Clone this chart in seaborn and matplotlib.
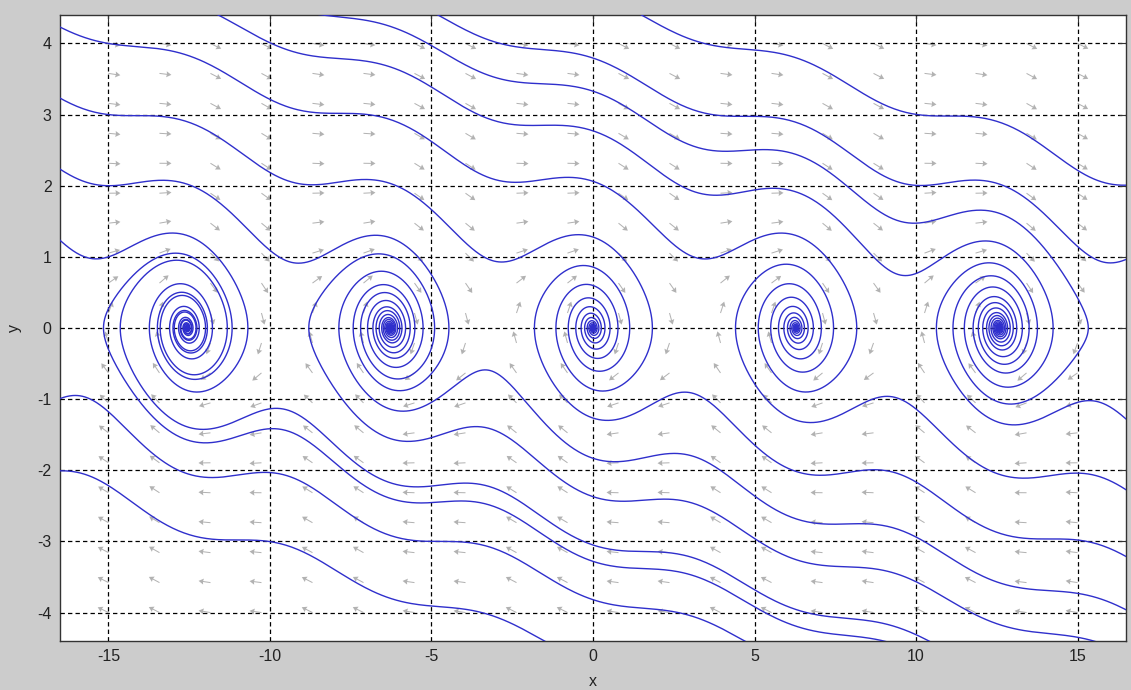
import numpy as np
import pandas as pd
import matplotlib
matplotlib.use("Agg")
import matplotlib.pyplot as plt
import seaborn as sns

# ---- data: damped pendulum  x' = y,  y' = -gain*sin(x) - damping*y ----
gain = 0.45
damping = 0.15
# seed points of trajectories moving right (y > 0)
upper_x0 = [-15.0, -15.0, -15.0, -15.0, -11.6, -8.0, -4.8, 1.5]
upper_y0 = [1.0, 2.0, 3.0, 4.0, 4.4, 4.38, 4.4, 4.4]
# seed points of trajectories moving left (y < 0)
lower_x0 = [14.9, 15.0, 15.0, 15.0, 15.5, 10.4, 9.0, 4.7, -1.5]
lower_y0 = [-1.06, -2.04, -2.98, -3.73, -4.4, -4.4, -4.4, -4.4, -4.4]
# direction-field grid
field_x = np.linspace(-15, 15, 20)
field_y = np.linspace(-4, 4, 20)
x_ticks = [-15, -10, -5, 0, 5, 10, 15]
y_ticks = [-4, -3, -2, -1, 0, 1, 2, 3, 4]
x_lim = (-16.5, 16.5)
y_lim = (-4.4, 4.4)


def rhs(s):
    return np.stack([s[:, 1], -gain * np.sin(s[:, 0]) - damping * s[:, 1]], axis=1)


def integrate(seeds, t_end, dt):
    n = int(abs(t_end) / dt)
    h = dt if t_end > 0 else -dt
    s = seeds.copy()
    out = np.empty((n + 1, len(seeds), 2))
    out[0] = s
    for i in range(n):
        k1 = rhs(s)
        k2 = rhs(s + 0.5 * h * k1)
        k3 = rhs(s + 0.5 * h * k2)
        k4 = rhs(s + h * k3)
        s = s + h / 6.0 * (k1 + 2 * k2 + 2 * k3 + k4)
        out[i + 1] = s
    return out


def clip_path(p):
    inside = (np.abs(p[:, 0]) < 17.0) & (np.abs(p[:, 1]) < 4.8)
    bad = np.where(~inside)[0]
    if len(bad):
        return p[: bad[0] + 1]
    return p


seeds = np.array(list(zip(upper_x0 + lower_x0, upper_y0 + lower_y0)))
fwd = integrate(seeds, 110.0, 0.02)
bwd = integrate(seeds, -50.0, 0.02)

rows = []
for k in range(len(seeds)):
    b = clip_path(bwd[:, k, :])[::-1]
    f = clip_path(fwd[:, k, :])
    p = np.vstack([b, f[1:]])
    rows.append(pd.DataFrame({"x": p[:, 0], "y": p[:, 1], "traj": k,
                              "order": np.arange(len(p))}))
traj_df = pd.concat(rows, ignore_index=True)

# ---- figure ----
sns.set_style("white")
plt.rcParams["font.family"] = ["Liberation Sans", "DejaVu Sans"]

W, H, DPI = 1131, 690, 100
fig = plt.figure(figsize=(W / DPI, H / DPI), dpi=DPI, facecolor="#cccccc")
left, right, top, bottom = 60, 1126, 15, 641
ax = fig.add_axes([left / W, 1 - bottom / H, (right - left) / W, (bottom - top) / H])
ax.set_facecolor("white")
ax.set_xlim(*x_lim)
ax.set_ylim(*y_lim)

# direction field, arrows of equal screen length
sx = (right - left) / (x_lim[1] - x_lim[0])
sy = (bottom - top) / (y_lim[1] - y_lim[0])
FX, FY = np.meshgrid(field_x, field_y)
U = FY
V = -gain * np.sin(FX) - damping * FY
Us, Vs = U * sx, V * sy
L = np.hypot(Us, Vs)
L[L == 0] = 1
arrow_px = 12.0
ax.quiver(FX, FY, arrow_px * Us / L, arrow_px * Vs / L, angles="uv",
          scale_units="dots", scale=1, units="dots", width=1.0,
          headwidth=6, headlength=5, headaxislength=4.5,
          color="#b2b2b2", zorder=2)

sns.lineplot(data=traj_df, x="x", y="y", units="traj", estimator=None,
             sort=False, color="#2f2fcc", linewidth=1.0, ax=ax, zorder=3)

ax.set_xticks(x_ticks)
ax.set_yticks(y_ticks)
ax.set_xticklabels([str(t) for t in x_ticks])
ax.set_yticklabels([str(t) for t in y_ticks])
ax.grid(True, color="black", linestyle=(0, (3.5, 2.5)), linewidth=0.9, zorder=1)
ax.set_axisbelow(False)
for sp in ax.spines.values():
    sp.set_color("#333333")
    sp.set_linewidth(1.0)
ax.tick_params(direction="in", length=5, width=0.8, color="#333333",
               top=True, right=True, labelsize=11.5, pad=6,
               labelcolor="#222222")
ax.set_xlabel("x", fontsize=11.5, color="#222222")
ax.set_ylabel("y", fontsize=11.5, color="#222222")
ax.xaxis.set_label_coords(0.5, -0.052)
ax.yaxis.set_label_coords(-0.036, 0.5)

fig.savefig("out.png", dpi=DPI, facecolor=fig.get_facecolor())
